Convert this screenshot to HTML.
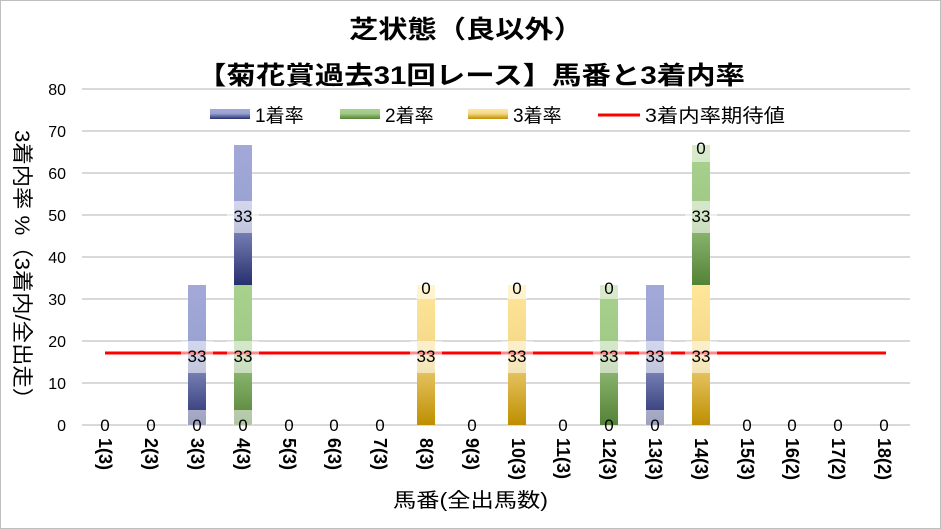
<!DOCTYPE html>
<html><head><meta charset="utf-8"><style>
body{margin:0;background:#fff;}
svg{display:block;font-family:"Liberation Sans","Noto Sans CJK JP",sans-serif;}
</style></head><body>
<svg width="941" height="529" viewBox="0 0 941 529">
<defs>
<linearGradient id="gb" x1="0" y1="0" x2="0" y2="1"><stop offset="0" stop-color="#a2a9d8"/><stop offset="0.45" stop-color="#9aa2d2"/><stop offset="1" stop-color="#27306f"/></linearGradient>
<linearGradient id="gg" x1="0" y1="0" x2="0" y2="1"><stop offset="0" stop-color="#a9d18e"/><stop offset="0.45" stop-color="#a0c987"/><stop offset="1" stop-color="#548235"/></linearGradient>
<linearGradient id="gy" x1="0" y1="0" x2="0" y2="1"><stop offset="0" stop-color="#ffe699"/><stop offset="0.45" stop-color="#f5d98a"/><stop offset="1" stop-color="#bf8f00"/></linearGradient>
</defs>
<rect x="0.5" y="0.5" width="940" height="528" fill="#fff" stroke="#bfbfbf"/>
<text x="349" y="38" font-size="25" font-weight="bold" textLength="234" lengthAdjust="spacingAndGlyphs">芝状態（良以外）</text>
<text x="197" y="84" font-size="25" font-weight="bold" textLength="548" lengthAdjust="spacingAndGlyphs">【菊花賞過去31回レース】馬番と3着内率</text>
<g stroke="#d9d9d9" stroke-width="2">
<line x1="82" x2="910" y1="89" y2="89"/><line x1="82" x2="910" y1="131" y2="131"/><line x1="82" x2="910" y1="173" y2="173"/><line x1="82" x2="910" y1="215" y2="215"/><line x1="82" x2="910" y1="257" y2="257"/><line x1="82" x2="910" y1="299" y2="299"/><line x1="82" x2="910" y1="341" y2="341"/><line x1="82" x2="910" y1="383" y2="383"/><line x1="82" x2="910" y1="425" y2="425"/>
</g>
<g font-size="16" text-anchor="end" fill="#000">
<text x="66" y="95">80</text><text x="66" y="137">70</text><text x="66" y="179">60</text><text x="66" y="221">50</text><text x="66" y="263">40</text><text x="66" y="305">30</text><text x="66" y="347">20</text><text x="66" y="389">10</text><text x="66" y="431">0</text>
</g>
<text transform="translate(15,130) rotate(90)" font-size="21" textLength="280" lengthAdjust="spacingAndGlyphs">3着内率 %（3着内/全出走）</text>
<!-- legend -->
<rect x="195" y="103" width="600" height="24" fill="#fff"/>
<rect x="210" y="109" width="40" height="10" fill="url(#gb)"/><text x="255" y="122" font-size="19">1着率</text>
<rect x="340" y="109" width="40" height="10" fill="url(#gg)"/><text x="385" y="122" font-size="19">2着率</text>
<rect x="468" y="109" width="40" height="10" fill="url(#gy)"/><text x="513" y="122" font-size="19">3着率</text>
<line x1="598" x2="640" y1="115" y2="115" stroke="#f00" stroke-width="3"/><text x="645" y="122" font-size="19" textLength="140" lengthAdjust="spacingAndGlyphs">3着内率期待値</text>
<rect x="188" y="285" width="18" height="140" fill="url(#gb)"/>
<rect x="234" y="145" width="18" height="140" fill="url(#gb)"/>
<rect x="234" y="285" width="18" height="140" fill="url(#gg)"/>
<rect x="417" y="285" width="18" height="140" fill="url(#gy)"/>
<rect x="508" y="285" width="18" height="140" fill="url(#gy)"/>
<rect x="600" y="285" width="18" height="140" fill="url(#gg)"/>
<rect x="646" y="285" width="18" height="140" fill="url(#gb)"/>
<rect x="692" y="145" width="18" height="140" fill="url(#gg)"/>
<rect x="692" y="285" width="18" height="140" fill="url(#gy)"/>
<line x1="105" x2="886" y1="353" y2="353" stroke="#f00" stroke-width="3"/>
<g fill="#fff" fill-opacity="0.55">
<rect x="181" y="341" width="32" height="32"/><rect x="227" y="341" width="32" height="32"/><rect x="227" y="201" width="32" height="32"/>
<rect x="410" y="341" width="32" height="32"/><rect x="501" y="341" width="32" height="32"/><rect x="593" y="341" width="32" height="32"/><rect x="639" y="341" width="32" height="32"/><rect x="685" y="341" width="32" height="32"/><rect x="685" y="201" width="32" height="32"/>
<rect x="187" y="410" width="20" height="15"/><rect x="233" y="410" width="20" height="15"/><rect x="416" y="275" width="20" height="24"/><rect x="507" y="275" width="20" height="24"/><rect x="599" y="275" width="20" height="24"/><rect x="645" y="410" width="20" height="15"/><rect x="691" y="135" width="20" height="27"/>
</g>
<g font-size="17" text-anchor="middle" fill="#000">
<text x="197" y="362">33</text><text x="243" y="362">33</text><text x="243" y="222">33</text>
<text x="426" y="362">33</text><text x="517" y="362">33</text><text x="609" y="362">33</text><text x="655" y="362">33</text><text x="701" y="362">33</text><text x="701" y="222">33</text>
<text x="426" y="294">0</text><text x="517" y="294">0</text><text x="609" y="294">0</text><text x="701" y="154">0</text>
<text x="105" y="431">0</text><text x="151" y="431">0</text><text x="197" y="431">0</text><text x="243" y="431">0</text><text x="289" y="431">0</text><text x="334" y="431">0</text><text x="380" y="431">0</text><text x="472" y="431">0</text><text x="563" y="431">0</text><text x="609" y="431">0</text><text x="655" y="431">0</text><text x="747" y="431">0</text><text x="792" y="431">0</text><text x="838" y="431">0</text><text x="884" y="431">0</text>
</g>
<g font-size="18" font-weight="bold" fill="#000">
<text transform="translate(99,438) rotate(90)">1(3)</text>
<text transform="translate(145,438) rotate(90)">2(3)</text>
<text transform="translate(191,438) rotate(90)">3(3)</text>
<text transform="translate(237,438) rotate(90)">4(3)</text>
<text transform="translate(283,438) rotate(90)">5(3)</text>
<text transform="translate(328,438) rotate(90)">6(3)</text>
<text transform="translate(374,438) rotate(90)">7(3)</text>
<text transform="translate(420,438) rotate(90)">8(3)</text>
<text transform="translate(466,438) rotate(90)">9(3)</text>
<text transform="translate(512,438) rotate(90)">10(3)</text>
<text transform="translate(557,438) rotate(90)">11(3)</text>
<text transform="translate(603,438) rotate(90)">12(3)</text>
<text transform="translate(649,438) rotate(90)">13(3)</text>
<text transform="translate(695,438) rotate(90)">14(3)</text>
<text transform="translate(741,438) rotate(90)">15(3)</text>
<text transform="translate(786,438) rotate(90)">16(2)</text>
<text transform="translate(832,438) rotate(90)">17(2)</text>
<text transform="translate(878,438) rotate(90)">18(2)</text>
</g>
<text x="393" y="507" font-size="20" textLength="155" lengthAdjust="spacingAndGlyphs">馬番(全出馬数)</text>
</svg>
</body></html>
